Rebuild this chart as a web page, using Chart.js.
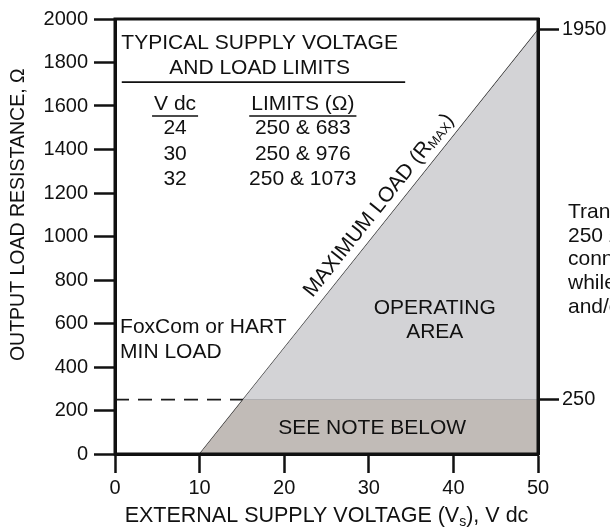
<!DOCTYPE html>
<html>
<head>
<meta charset="utf-8">
<script src="https://cdn.jsdelivr.net/npm/chart.js@4.4.1/dist/chart.umd.min.js"></script>
<style>
html, body { margin: 0; padding: 0; background: #fff; }
canvas { display: block; }
</style>
</head>
<body>
<canvas id="loadChart" width="610" height="531"></canvas>
<script>
// values
const xTicks = [0, 10, 20, 30, 40, 50];
const yTicks = [0, 200, 400, 600, 800, 1000, 1200, 1400, 1600, 1800, 2000];
const rightTicks = [250, 1950];
const rmaxVolts = [10, 50];     // R_MAX line end points, V dc
const rmaxOhms = [0, 1950];     // R_MAX line end points, ohm
const minLoad = 250;            // FoxCom / HART minimum load, ohm
const tableVdc = ['24', '30', '32'];
const tableLimits = ['250 & 683', '250 & 976', '250 & 1073'];
const noteLines = ['Transmitter', '250 Ω', 'connected', 'while', 'and/or'];

const FONT = '"Liberation Sans", Arial, Helvetica, sans-serif';
const INK = '#111';

// where the R_MAX line crosses the minimum load
const minLoadVolts = rmaxVolts[0] + minLoad * (rmaxVolts[1] - rmaxVolts[0]) / (rmaxOhms[1] - rmaxOhms[0]);

// text, frame and titles that are not part of the axes
const annotations = {
    id: 'annotations',
    afterDraw(chart) {
        const ctx = chart.ctx;
        const xs = chart.scales.x, ys = chart.scales.y;
        const area = chart.chartArea;
        const P = (v, r) => ({ x: xs.getPixelForValue(v), y: ys.getPixelForValue(r) });

        ctx.save();
        // frame
        ctx.strokeStyle = INK;
        ctx.lineWidth = 3;
        ctx.strokeRect(area.left, area.top, area.right - area.left, area.bottom - area.top);

        ctx.fillStyle = INK;
        ctx.textBaseline = 'middle';
        const big = '21px ' + FONT;
        ctx.font = big;

        const text = (s, v, r, align) => {
            const p = P(v, r);
            ctx.textAlign = align || 'center';
            ctx.fillText(s, p.x, p.y);
        };
        const hline = (v0, v1, r, w) => {
            const a = P(v0, r), b = P(v1, r);
            ctx.lineWidth = w;
            ctx.beginPath();
            ctx.moveTo(a.x, a.y);
            ctx.lineTo(b.x, b.y);
            ctx.stroke();
        };

        // table
        text('TYPICAL SUPPLY VOLTAGE', 17.1, 1890);
        text('AND LOAD LIMITS', 17.1, 1775);
        hline(0.8, 34.3, 1710, 1.6);
        text('V dc', 7.1, 1609);
        text('LIMITS (Ω)', 22.2, 1609);
        const wV = ctx.measureText('V dc').width;
        const wL = ctx.measureText('LIMITS (Ω)').width;
        const cV = P(7.1, 1554), cL = P(22.2, 1554);
        ctx.lineWidth = 1.6;
        ctx.beginPath();
        ctx.moveTo(cV.x - wV / 2 - 2, cV.y); ctx.lineTo(cV.x + wV / 2 + 2, cV.y);
        ctx.moveTo(cL.x - wL / 2 - 2, cL.y); ctx.lineTo(cL.x + wL / 2 + 2, cL.y);
        ctx.stroke();
        const rowOhms = [1499, 1379, 1264];
        tableVdc.forEach((s, i) => {
            text(s, 7.1, rowOhms[i]);
            text(tableLimits[i], 22.2, rowOhms[i]);
        });

        // region labels
        text('OPERATING', 37.8, 671);
        text('AREA', 37.8, 561);
        text('FoxCom or HART', 0.6, 584, 'left');
        text('MIN LOAD', 0.6, 469, 'left');
        text('SEE NOTE BELOW', 30.4, 120);

        // note text beside the chart (runs off the page edge)
        const noteOhms = [1113, 1002, 897, 786, 676];
        ctx.textAlign = 'left';
        noteLines.forEach((s, i) => ctx.fillText(s, area.right + 30, ys.getPixelForValue(noteOhms[i])));

        // MAXIMUM LOAD (R_MAX) along the line
        const a = P(rmaxVolts[0], rmaxOhms[0]), b = P(rmaxVolts[1], rmaxOhms[1]);
        const ang = Math.atan2(b.y - a.y, b.x - a.x);
        const anchorR = 1100;
        const anc = P(rmaxVolts[0] + anchorR * (rmaxVolts[1] - rmaxVolts[0]) / (rmaxOhms[1] - rmaxOhms[0]), anchorR);
        ctx.save();
        ctx.translate(anc.x, anc.y);
        ctx.rotate(ang);
        ctx.textAlign = 'left';
        ctx.textBaseline = 'alphabetic';
        const small = '13px ' + FONT;
        const p1 = 'MAXIMUM LOAD (R', p2 = 'MAX', p3 = ')';
        ctx.font = big; const w1 = ctx.measureText(p1).width, w3 = ctx.measureText(p3).width;
        ctx.font = small; const w2 = ctx.measureText(p2).width;
        let x0 = -(w1 + w2 + w3) / 2;
        const base = -9;
        ctx.font = big; ctx.fillText(p1, x0, base); x0 += w1;
        ctx.font = small; ctx.fillText(p2, x0, base + 2); x0 += w2;
        ctx.font = big; ctx.fillText(p3, x0, base);
        ctx.restore();

        // y axis title (sits a little above the axis middle)
        ctx.save();
        ctx.translate(18.5, ys.getPixelForValue(1100));
        ctx.rotate(-Math.PI / 2);
        ctx.textAlign = 'center';
        ctx.textBaseline = 'middle';
        ctx.font = '19.5px ' + FONT;
        ctx.fillText('OUTPUT LOAD RESISTANCE, Ω', 0, 0);
        ctx.restore();

        // x axis title with subscript
        const t1 = 'EXTERNAL SUPPLY VOLTAGE (V', t2 = 's', t3 = '), V dc';
        const xt = '21.5px ' + FONT, sub = '14px ' + FONT;
        ctx.textAlign = 'left';
        ctx.textBaseline = 'alphabetic';
        ctx.font = xt; const u1 = ctx.measureText(t1).width, u3 = ctx.measureText(t3).width;
        ctx.font = sub; const u2 = ctx.measureText(t2).width;
        let tx = (area.left + area.right) / 2 - (u1 + u2 + u3) / 2;
        const ty = 522;
        ctx.font = xt; ctx.fillText(t1, tx, ty); tx += u1;
        ctx.font = sub; ctx.fillText(t2, tx, ty + 4); tx += u2;
        ctx.font = xt; ctx.fillText(t3, tx, ty);

        ctx.restore();
    }
};

const tickFont = { family: FONT, size: 20 };
const plain = v => String(v);
const axisGrid = len => ({ drawOnChartArea: false, drawTicks: true, tickLength: len, tickWidth: 2.5, tickColor: INK });
const axisBorder = { display: true, width: 3, color: INK };

new Chart(document.getElementById('loadChart'), {
    type: 'line',
    data: {
        datasets: [
            {   // operating area
                data: [{ x: minLoadVolts, y: minLoad }, { x: rmaxVolts[1], y: rmaxOhms[1] }],
                fill: { value: minLoad },
                backgroundColor: '#d3d3d6',
                borderWidth: 0,
                pointRadius: 0
            },
            {   // below the minimum load
                data: [{ x: rmaxVolts[0], y: rmaxOhms[0] }, { x: minLoadVolts, y: minLoad }, { x: rmaxVolts[1], y: minLoad }],
                fill: 'origin',
                backgroundColor: '#c1bbb7',
                borderWidth: 0,
                pointRadius: 0
            },
            {   // R_MAX line
                data: rmaxVolts.map((v, i) => ({ x: v, y: rmaxOhms[i] })),
                fill: false,
                borderColor: '#1a1a1a',
                borderWidth: 1.2,
                pointRadius: 0
            },
            {   // minimum load line, dashed left of R_MAX
                data: [{ x: 0, y: minLoad }, { x: minLoadVolts, y: minLoad }, { x: rmaxVolts[1], y: minLoad }],
                fill: false,
                borderColor: '#1a1a1a',
                borderWidth: 1.6,
                pointRadius: 0,
                segment: { borderDash: c => c.p0DataIndex === 0 ? [14, 9] : [] }
            }
        ]
    },
    options: {
        responsive: false,
        animation: false,
        layout: { padding: { top: 19, left: 0, right: 0, bottom: 0 } },
        plugins: { legend: { display: false }, tooltip: { enabled: false } },
        scales: {
            x: {
                type: 'linear', min: 0, max: 50,
                afterBuildTicks: s => { s.ticks = xTicks.map(v => ({ value: v })); },
                ticks: { color: INK, font: tickFont, padding: 3, maxRotation: 0, callback: plain },
                grid: axisGrid(19),
                border: axisBorder,
                afterFit: s => { s.height = 77; }
            },
            y: {
                type: 'linear', position: 'left', min: 0, max: 2000,
                afterBuildTicks: s => { s.ticks = yTicks.map(v => ({ value: v })); },
                ticks: { color: INK, font: tickFont, padding: 6, callback: plain },
                grid: axisGrid(21),
                border: axisBorder,
                afterFit: s => { s.width = 115; }
            },
            y2: {
                type: 'linear', position: 'right', min: 0, max: 2000,
                afterBuildTicks: s => { s.ticks = rightTicks.map(v => ({ value: v })); },
                ticks: { color: INK, font: tickFont, padding: 3, callback: plain },
                grid: axisGrid(21),
                border: axisBorder,
                afterFit: s => { s.width = 72; }
            }
        }
    },
    plugins: [annotations]
});
</script>
</body>
</html>
